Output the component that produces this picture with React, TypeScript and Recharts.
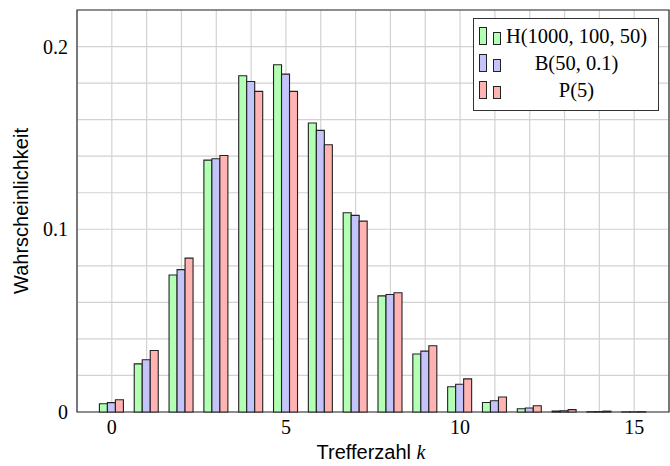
import { BarChart, Bar, XAxis, YAxis, CartesianGrid, Legend, ReferenceArea, Label } from 'recharts'

const ks = [0, 1, 2, 3, 4, 5, 6, 7, 8, 9, 10, 11, 12, 13, 14, 15]

// H(1000, 100, 50)
const hyperValues = [
  0.00448, 0.02634, 0.07499, 0.13785, 0.18398, 0.19005, 0.15819, 0.10907,
  0.06354, 0.03176, 0.01378, 0.00524, 0.00176, 0.00052, 0.00014, 0.00003,
]
// B(50, 0.1)
const binomValues = [
  0.00515, 0.02863, 0.07794, 0.13856, 0.1809, 0.18492, 0.1541, 0.10763,
  0.06428, 0.03333, 0.01518, 0.00614, 0.00222, 0.00072, 0.00021, 0.00006,
]
// P(5)
const poissonValues = [
  0.00674, 0.03369, 0.08422, 0.14037, 0.17547, 0.17547, 0.14622, 0.10444,
  0.06528, 0.03627, 0.01813, 0.00824, 0.00343, 0.00132, 0.00047, 0.00016,
]

const seriesNames = ['H(1000, 100, 50)', 'B(50, 0.1)', 'P(5)']
const seriesColors = ['#b3ffb3', '#c4c4fa', '#ffb3b3']

const xTicks = [-1, 0, 1, 2, 3, 4, 5, 6, 7, 8, 9, 10, 11, 12, 13, 14, 15, 16]
const xTickLabels = ['0', '5', '10', '15']
const yTicks = [0, 0.02, 0.04, 0.06, 0.08, 0.1, 0.12, 0.14, 0.16, 0.18, 0.2, 0.22]
const yTickLabels = ['0', '0.1', '0.2']

const data = ks.map((k, i) => ({
  k,
  h: hyperValues[i],
  b: binomValues[i],
  p: poissonValues[i],
}))

const serif = '"Liberation Serif", "Times New Roman", serif'
const sans = '"Liberation Sans", Arial, sans-serif'

function LegendBox() {
  return (
    <div
      style={{
        width: 184,
        height: 87,
        border: '1px solid #333',
        background: '#fff',
        fontFamily: serif,
        fontSize: 20.5,
        paddingTop: 4,
        boxSizing: 'content-box',
      }}
    >
      {seriesNames.map((name, i) => (
        <div key={name} style={{ display: 'flex', alignItems: 'flex-end', height: 27 }}>
          <div style={{ width: 6, marginLeft: 5, marginBottom: 5, height: 16, background: seriesColors[i], border: '1px solid #222' }} />
          <div style={{ width: 6, marginLeft: 6, marginBottom: 5, height: 11, background: seriesColors[i], border: '1px solid #222' }} />
          <div style={{ flex: 1, textAlign: 'center', lineHeight: '27px', whiteSpace: 'nowrap', marginLeft: 2, paddingRight: 8 }}>{name}</div>
        </div>
      ))}
    </div>
  )
}

export default function App() {
  return (
    <div style={{ position: 'absolute', left: 0, top: 0, background: '#fff' }}>
      <BarChart
        width={670}
        height={466}
        data={data}
        margin={{ top: 10, right: 1, left: 17, bottom: 0 }}
        barGap={0}
        barSize={8}
      >
        <CartesianGrid stroke="#d2d2d2" strokeWidth={1.2} />
        <XAxis
          dataKey="k"
          type="number"
          domain={[-1, 16]}
          ticks={xTicks}
          interval={0}
          height={54}
          axisLine={false}
          tickLine={false}
          tickMargin={2}
          tick={{ fill: '#000', fontSize: 20, fontFamily: serif }}
          tickFormatter={(v: number) => (xTickLabels.includes(String(v)) ? String(v) : '')}
        >
          <Label
            content={() => (
              <text x={371} y={459} textAnchor="middle" fontFamily={sans} fontSize={20} fill="#000">
                Trefferzahl <tspan fontFamily={serif} fontStyle="italic">k</tspan>
              </text>
            )}
          />
        </XAxis>
        <YAxis
          type="number"
          domain={[0, 0.22]}
          ticks={yTicks}
          interval={0}
          width={60}
          axisLine={false}
          tickLine={false}
          tickMargin={3}
          tick={{ fill: '#000', fontSize: 20, fontFamily: serif }}
          tickFormatter={(v: number) => {
            const s = String(Math.round(v * 100) / 100)
            return yTickLabels.includes(s) ? s : ''
          }}
        >
          <Label
            content={() => (
              <text
                x={21}
                y={211}
                transform="rotate(-90 21 211)"
                textAnchor="middle"
                dominantBaseline="central"
                fontFamily={sans}
                fontSize={20}
                fill="#000"
              >
                Wahrscheinlichkeit
              </text>
            )}
          />
        </YAxis>
        <Bar dataKey="h" name={seriesNames[0]} fill={seriesColors[0]} stroke="#222" strokeWidth={1.1} isAnimationActive={false} />
        <Bar dataKey="b" name={seriesNames[1]} fill={seriesColors[1]} stroke="#222" strokeWidth={1.1} isAnimationActive={false} />
        <Bar dataKey="p" name={seriesNames[2]} fill={seriesColors[2]} stroke="#222" strokeWidth={1.1} isAnimationActive={false} />
        <ReferenceArea x1={-1} x2={16} y1={0} y2={0.22} fill="none" stroke="#333" strokeWidth={1.2} />
        <Legend
          layout="horizontal"
          verticalAlign="middle"
          align="center"
          content={() => <LegendBox />}
          wrapperStyle={{ left: 473, top: 18, width: 186, height: 92 }}
        />
      </BarChart>
    </div>
  )
}
